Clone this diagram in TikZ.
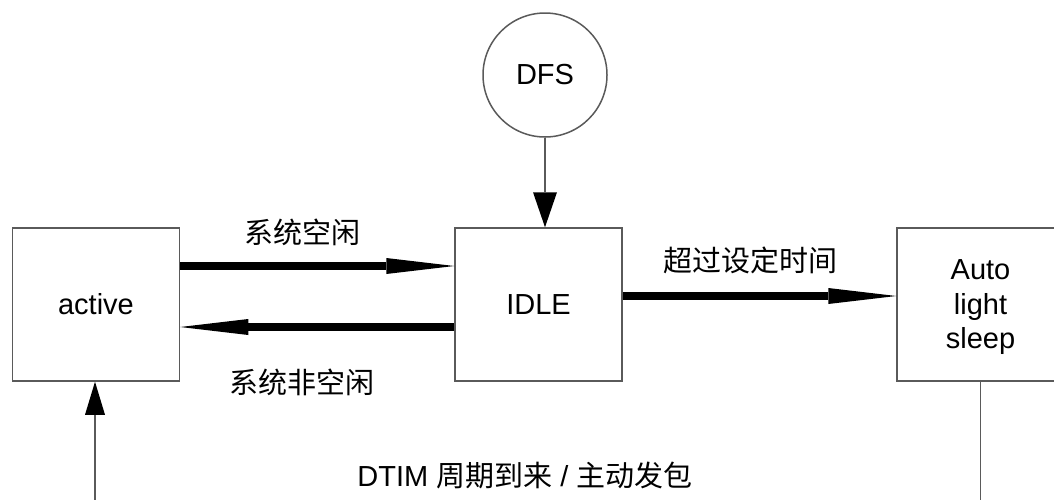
\documentclass[tikz,border=0pt]{standalone}
\usepackage{fontspec}
\setmainfont{Liberation Sans}
\newfontfamily\cjk{Noto Sans CJK SC}
\usetikzlibrary{arrows.meta}
\definecolor{boxgray}{HTML}{5A5A5A}
\begin{document}
\begin{tikzpicture}[x=1pt,y=-1pt,
  txt/.style={font=\fontsize{29}{33}\selectfont,inner sep=0pt,align=center},
  box/.style={txt,draw=boxgray,line width=1.5pt,minimum width=167pt,minimum height=153pt},
  circ/.style={txt,draw=boxgray,line width=1.5pt,circle,minimum size=124pt},
  big/.style={line width=7.5pt,-{Triangle[length=68pt,width=16pt,line width=0pt]}},
  thinarrow/.style={draw=boxgray,line width=1.5pt,-{Triangle[length=35pt,width=24pt,line width=0pt,color=black]}},
  thinline/.style={draw=boxgray,line width=1.5pt}
]
\useasboundingbox (0,0) rectangle (1054,499);
\clip (0,0) rectangle (1054,499);

\node[box] (active) at (96,304.5) {active};
\node[box] (idle) at (538.5,304.5) {IDLE};
\node[box,font=\fontsize{29}{34.5}\selectfont,text depth=0pt] (als) at (980.5,304.5) {Auto\\light\\sleep};
\node[circ] (dfs) at (545,75) {DFS};

\draw[thinarrow] (dfs.south) -- (dfs.south |- idle.north);

\draw[big] ([yshift=38.5pt]active.east) -- ([yshift=38.5pt]idle.west);
\draw[big] ([yshift=-22.5pt]idle.west) -- ([yshift=-22.5pt]active.east);
\draw[big] ([yshift=8.5pt]idle.east) -- ([yshift=8.5pt]als.west);

\coordinate (bl) at (95,520);
\coordinate (br) at (980.5,520);
\draw[thinline,-{Triangle[length=33pt,width=20pt,line width=0pt,color=black]}] (bl) -- (bl |- active.south);
\draw[thinline] (als.south) -- (br);

\node[txt] (l1) at (302,232) {\cjk 系统空闲};
\node[txt] (l2) at (302,382) {\cjk 系统非空闲};
\node[txt] (l3) at (750,260) {\cjk 超过设定时间};
\node[txt] (l4) at (525,475) {DTIM {\cjk 周期到来} / {\cjk 主动发包}};
\end{tikzpicture}
\end{document}
